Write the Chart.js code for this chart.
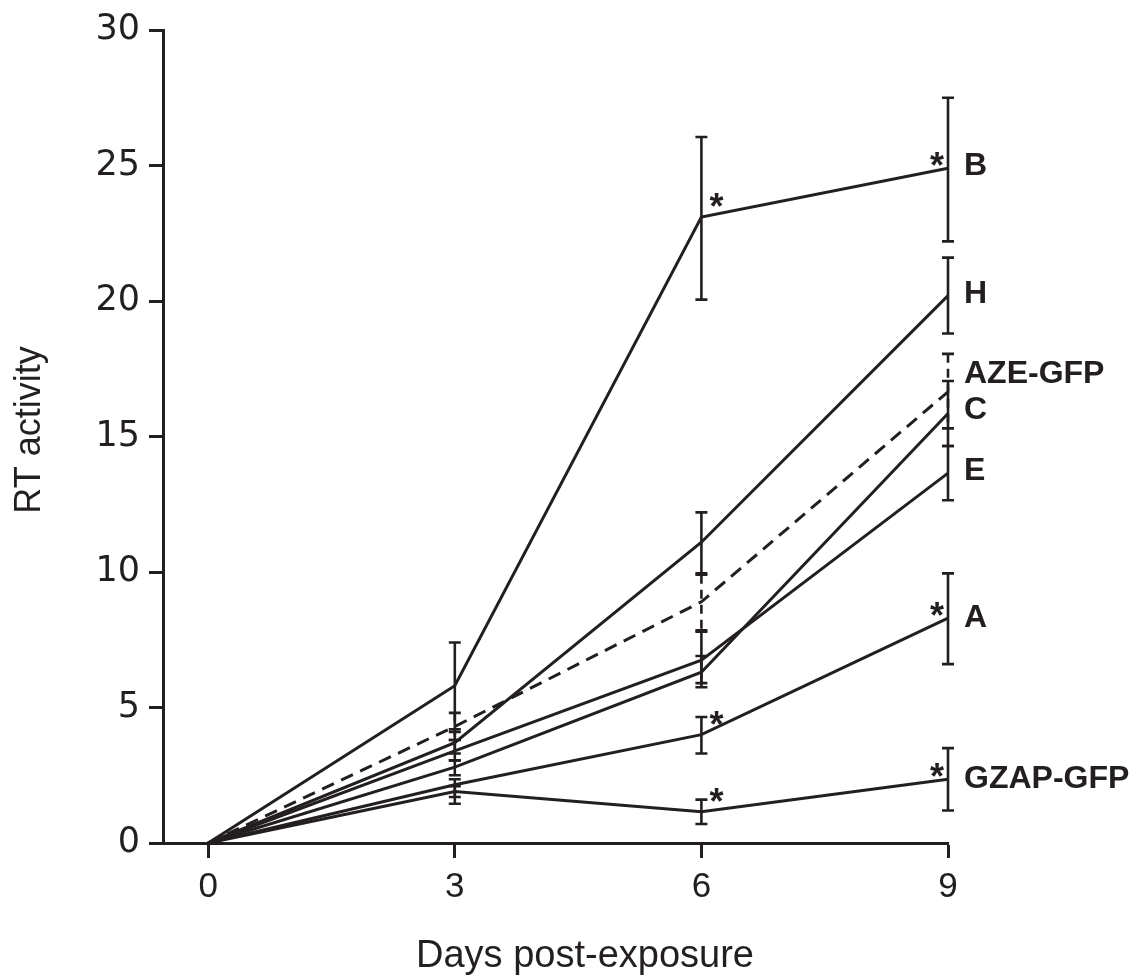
<!DOCTYPE html>
<html>
<head>
<meta charset="utf-8">
<title>RT activity</title>
<script src="https://cdn.jsdelivr.net/npm/chart.js@4.4.1/dist/chart.umd.min.js"></script>
<style>
  html, body { margin: 0; padding: 0; background: #fff; }
  canvas { display: block; }
</style>
</head>
<body>
<canvas id="rt" width="1142" height="979"></canvas>
<script>
const INK = '#231f20';

// ---------- Data ----------
const days = [0, 3, 6, 9];
const xTicks = [0, 3, 6, 9];
const yTicks = [0, 5, 10, 15, 20, 25, 30];

const valB = [0, 5.8, 23.1, 24.9];
const hiB = [null, 7.4, 26.05, 27.5];
const loB = [null, 4.2, 20.05, 22.2];
const sigB = [6, 9];

const valH = [0, 3.7, 11.1, 20.2];
const hiH = [null, 4.1, 12.2, 21.6];
const loH = [null, 3.3, 9.95, 18.8];

const valAZE = [0, 4.3, 8.9, 16.65];
const hiAZE = [null, 4.8, 9.9, 18.05];
const loAZE = [null, 3.8, 7.85, 15.3];

const valC = [0, 2.8, 6.3, 15.85];
const hiC = [null, 3.05, 6.9, 17.05];
const loC = [null, 2.5, 5.9, 14.65];

const valE = [0, 3.4, 6.75, 13.65];
const hiE = [null, 3.8, 7.8, 14.65];
const loE = [null, 3.05, 5.75, 12.65];

const valA = [0, 2.15, 4.0, 8.3];
const hiA = [null, 2.35, 4.65, 9.95];
const loA = [null, 1.7, 3.3, 6.6];
const sigA = [6, 9];

const valGZAP = [0, 1.9, 1.15, 2.35];
const hiGZAP = [null, 2.1, 1.6, 3.5];
const loGZAP = [null, 1.45, 0.7, 1.2];
const sigGZAP = [6, 9];

const SERIES = [
  { name: 'B', values: valB, hi: hiB, lo: loB, sig: sigB },
  { name: 'H', values: valH, hi: hiH, lo: loH, sig: [] },
  { name: 'AZE-GFP', values: valAZE, hi: hiAZE, lo: loAZE, sig: [], dashed: true },
  { name: 'C', values: valC, hi: hiC, lo: loC, sig: [] },
  { name: 'E', values: valE, hi: hiE, lo: loE, sig: [] },
  { name: 'A', values: valA, hi: hiA, lo: loA, sig: sigA },
  { name: 'GZAP-GFP', values: valGZAP, hi: hiGZAP, lo: loGZAP, sig: sigGZAP },
];

// where each end label sits on the y scale (nudged apart where they crowd)
const labelAt = [25.0, 20.3, 17.35, 16.0, 13.75, 8.35, 2.4];

const LINE_DASH = [13, 8];
const BAR_DASH = [9, 6];

// ---------- Error bars ----------
const errorBars = {
  id: 'errorBars',
  afterDatasetsDraw(chart) {
    const { ctx, scales: { x, y } } = chart;
    ctx.save();
    ctx.strokeStyle = INK;
    ctx.lineWidth = 2.6;
    SERIES.forEach((s) => {
      days.forEach((d, j) => {
        if (s.hi[j] == null) return;
        const px = x.getPixelForValue(d);
        const top = y.getPixelForValue(s.hi[j]);
        const bot = y.getPixelForValue(s.lo[j]);
        ctx.setLineDash(s.dashed ? BAR_DASH : []);
        ctx.beginPath();
        ctx.moveTo(px, top);
        ctx.lineTo(px, bot);
        ctx.stroke();
        ctx.setLineDash([]);
        ctx.beginPath();
        ctx.moveTo(px - 6, top); ctx.lineTo(px + 6, top);
        ctx.moveTo(px - 6, bot); ctx.lineTo(px + 6, bot);
        ctx.stroke();
      });
    });
    ctx.restore();
  },
};

// ---------- Asterisks, end labels, axis titles ----------
const marks = {
  id: 'marks',
  afterDraw(chart) {
    const { ctx, scales: { x, y } } = chart;
    const lastDay = days[days.length - 1];
    ctx.save();
    ctx.fillStyle = INK;

    // significance stars
    ctx.font = 'bold 36px "Liberation Sans", Arial, sans-serif';
    ctx.textAlign = 'center';
    ctx.textBaseline = 'alphabetic';
    const m = ctx.measureText('*');
    const mid = (m.actualBoundingBoxAscent - m.actualBoundingBoxDescent) / 2;
    SERIES.forEach((s) => {
      s.sig.forEach((d) => {
        const j = days.indexOf(d);
        const px = x.getPixelForValue(d);
        const py = y.getPixelForValue(s.values[j]);
        const dx = d === lastDay ? -11 : 15;
        const dy = d === lastDay ? -9 : -17;
        ctx.fillText('*', px + dx, py + dy + mid);
      });
    });

    // end-of-line labels
    ctx.font = 'bold 32px "Liberation Sans", Arial, sans-serif';
    ctx.textAlign = 'left';
    ctx.textBaseline = 'middle';
    const lx = x.getPixelForValue(lastDay) + 16;
    SERIES.forEach((s, i) => {
      ctx.fillText(s.name, lx, y.getPixelForValue(labelAt[i]) + 1);
    });

    // axis titles
    ctx.font = '38px "Liberation Sans", Arial, sans-serif';
    ctx.textAlign = 'center';
    ctx.textBaseline = 'alphabetic';
    ctx.fillText('Days post-exposure', 585, 967);

    ctx.save();
    ctx.translate(40, 430);
    ctx.rotate(-Math.PI / 2);
    ctx.font = '36px "Liberation Sans Narrow", "Liberation Sans", sans-serif';
    ctx.fillText('RT activity', 0, 0);
    ctx.restore();

    ctx.restore();
  },
};

new Chart(document.getElementById('rt'), {
  type: 'line',
  data: {
    datasets: SERIES.map((s) => ({
      label: s.name,
      data: days.map((d, j) => ({ x: d, y: s.values[j] })),
      borderColor: INK,
      borderWidth: 3,
      borderDash: s.dashed ? LINE_DASH : [],
      pointRadius: 0,
      tension: 0,
      fill: false,
      clip: false,
    })),
  },
  plugins: [errorBars, marks],
  options: {
    responsive: false,
    animation: false,
    devicePixelRatio: 1,
    layout: { padding: { top: 19, right: 194, left: 0, bottom: 0 } },
    events: [],
    plugins: { legend: { display: false }, tooltip: { enabled: false } },
    scales: {
      x: {
        type: 'linear',
        min: -0.55,
        max: 9,
        afterBuildTicks: (sc) => { sc.ticks = xTicks.map((v) => ({ value: v })); },
        afterFit: (sc) => { sc.height = 136; },
        grid: { drawOnChartArea: false, tickLength: 15, tickWidth: 3, tickColor: INK },
        border: { color: INK, width: 3 },
        ticks: {
          color: INK,
          padding: 8,
          maxRotation: 0,
          font: { family: '"Liberation Sans", Arial, sans-serif', size: 35 },
        },
      },
      y: {
        type: 'linear',
        min: 0,
        max: 30,
        afterBuildTicks: (sc) => { sc.ticks = yTicks.map((v) => ({ value: v })); },
        afterFit: (sc) => { sc.width = 163; },
        grid: { drawOnChartArea: false, tickLength: 14, tickWidth: 3, tickColor: INK },
        border: { color: INK, width: 3 },
        ticks: {
          color: INK,
          padding: 9,
          font: { family: '"DejaVu Sans", sans-serif', size: 35 },
        },
      },
    },
  },
});
</script>
</body>
</html>
